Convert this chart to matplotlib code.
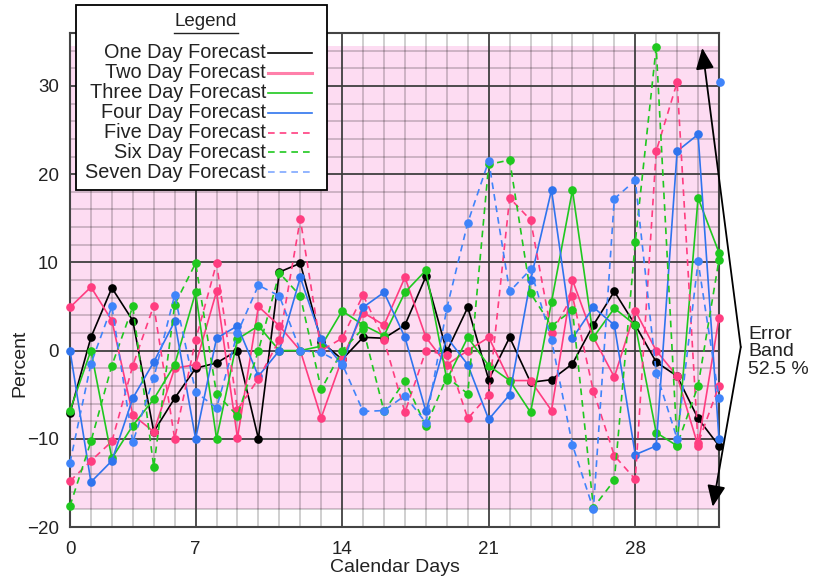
import numpy as np
import matplotlib
matplotlib.use("Agg")
import matplotlib.pyplot as plt
from matplotlib.patches import Rectangle
from matplotlib.lines import Line2D

plt.rcParams['font.family'] = ['Liberation Sans', 'DejaVu Sans']

# ---------------- data ----------------
days = list(range(1, 33))
xtick_pos = [1, 7, 14, 21, 28]
xtick_labels = ["0", "7", "14", "21", "28"]
ytick_vals = [-20, -10, 0, 10, 20, 30]

one_day = [-7.1, 1.5, 7.1, 3.4, -9.2, -5.4, -2.0, -1.4, 0.0, -10.0, 8.9, 9.9, 1.0, -1.0, 1.5, 1.4,
           2.9, 8.4, -0.1, 4.9, -3.3, 1.5, -3.6, -3.3, -1.5, 2.9, 6.7, 2.9, -1.3, -2.9, -7.7, -10.8]
two_day = [4.9, 7.2, 3.4, -7.3, -9.2, -2.0, -1.6, 6.7, -9.9, 5.0, 2.8, 0.0, -7.6, -0.9, 4.3, 2.9,
           8.3, 1.5, -1.6, 0.0, 1.5, -3.4, -3.4, -6.8, 8.0, 1.5, -3.0, 4.5, 0.0, -2.9, -10.8, 3.7]
three_day = [-6.8, 0.0, -12.2, -8.5, -5.5, -1.6, 6.6, -10.0, 1.3, 2.8, 0.0, 0.0, 0.5, 4.5, 2.9, 1.7,
             6.6, 9.1, -3.3, 1.5, -1.7, -3.4, -7.0, 5.5, 18.2, 1.5, 4.8, 2.9, -9.3, -10.8, 17.3, 11.1]
four_day = [0.0, -14.9, -12.5, -5.4, -1.3, 3.3, -10.0, 1.4, 2.8, -2.9, 0.0, 8.3, 1.3, -1.6, 4.9, 6.6,
            1.5, -6.9, 1.5, -1.6, -7.8, -5.0, 8.0, 18.2, 1.4, 4.9, 2.9, -11.8, -10.8, 22.6, 24.5, -10.0]
five_day = [-14.8, -12.5, -10.3, -1.7, 5.1, -10.0, 1.2, 9.9, -6.7, -3.2, 1.2, 14.9, 0.0, 1.4, 6.3, 1.2,
            -7.0, 0.0, -0.5, -7.7, -5.0, 17.3, 14.8, 2.0, 6.2, -4.6, -11.9, -14.6, 22.6, 30.4, -10.5, -4.0]
six_day = [-17.6, -10.3, -1.7, 5.0, -13.2, 5.2, 9.9, -4.9, -7.4, 0.0, 8.8, 6.2, -4.4, 0.0, 2.5, -6.9,
           -3.4, -8.6, -3.0, -4.9, 21.1, 21.6, 6.5, 2.8, 4.6, -17.8, -14.7, 12.3, 34.4, -10.7, -4.0, 10.3]
seven_day = [-12.7, -1.5, 5.0, -10.4, -3.1, 6.3, -4.7, -6.5, 2.0, 7.4, 6.2, 0.0, -0.2, -1.5, -6.9, -6.8,
             -5.1, -8.2, 4.8, 14.5, 21.5, 6.7, 9.2, 1.2, -10.7, -18.0, 17.2, 19.3, -2.5, -10.0, 10.1, -5.4]
seven_extra_day = [32.05]
seven_extra_value = [30.4]

band_low = -18.0
band_high = 34.5
band_label = "Error\nBand\n52.5 %"

series_names = ["One Day Forecast", "Two Day Forecast", "Three Day Forecast", "Four Day Forecast",
                "Five Day Forecast", "Six Day Forecast", "Seven Day Forecast"]
series_values = [one_day, two_day, three_day, four_day, five_day, six_day, seven_day]

# ---------------- styles ----------------
PINK = '#ff3d80'
GREEN = '#1fc81f'
BLUE = '#2f74ee'
LBLUE = '#3f84fa'
colors = ['#000000', PINK, GREEN, BLUE, PINK, GREEN, LBLUE]
legend_colors = ['#000000', '#ff80aa', GREEN, BLUE, PINK, GREEN, '#7fa8ff']
dashed = [False, False, False, False, True, True, True]
DASH = (0, (4, 3))
TXT = '#222222'

W, H = 817, 578
fig = plt.figure(figsize=(W / 100, H / 100), dpi=100)
ax = fig.add_axes([70 / W, 1 - 527 / H, (719 - 70) / W, (527 - 33) / H])

ax.set_xlim(1, 32)
ax.set_ylim(-20, 36)

# band
ax.axhspan(band_low, band_high, color='#fddcf2', zorder=0, lw=0)

# minor grid
for d in days:
    ax.axvline(d, color='black', alpha=0.22, lw=1.2, zorder=0.5)
for v in np.arange(-20, 37, 2):
    ax.axhline(v, color='black', alpha=0.22, lw=1.2, zorder=0.5)
# major grid
for d in xtick_pos[1:]:
    ax.axvline(d, color='#3a3a3a', lw=1.2, zorder=0.6)
for v in ytick_vals:
    ax.axhline(v, color='#3a3a3a', lw=1.2, zorder=0.6)

for name, vals, c, dsh in zip(series_names, series_values, colors, dashed):
    ax.plot(days, vals, color=c, lw=1.2, ls=DASH if dsh else '-', marker='o', ms=5.2,
            mec=c, mfc=c, clip_on=False, zorder=3)
ax.plot(seven_extra_day, seven_extra_value, 'o', color=LBLUE, ms=5.2, clip_on=False, zorder=3)

ax.set_xticks(xtick_pos)
ax.set_xticklabels(xtick_labels)
ax.set_yticks(ytick_vals)
ax.tick_params(length=0, labelsize=13.5, colors=TXT)
ax.tick_params(axis='x', pad=10)
ax.tick_params(axis='y', pad=8)
for s in ax.spines.values():
    s.set_color('#444444')
    s.set_linewidth(1.5)
ax.set_xlabel("Calendar Days", fontsize=14, labelpad=1, color=TXT)

fig.text(20 / W, 1 - 363 / H, "Percent", rotation=90, ha='center', va='center',
         fontsize=14, color=TXT)

# error band arrows
vx, vy = 33.04, 0.4
arrow_kw = dict(arrowstyle='-|>,head_length=0.65,head_width=0.28', color='black', lw=1.3,
                mutation_scale=20, shrinkA=0, shrinkB=0)
ax.annotate('', xy=(31.2, band_high - 0.2), xytext=(vx, vy), arrowprops=arrow_kw,
            annotation_clip=False, zorder=5)
ax.annotate('', xy=(31.7, band_low + 0.3), xytext=(vx, vy), arrowprops=arrow_kw,
            annotation_clip=False, zorder=5)
fig.text(748 / W, 1 - 352 / H, band_label, ha='left', va='center', fontsize=14,
         linespacing=1.05, color=TXT)

# legend (custom, drawn in figure pixel coordinates)
def fx(px):
    return px / W

def fy(py):
    return 1 - py / H

fig.add_artist(Rectangle((fx(76), fy(190)), fx(327) - fx(76), fy(5) - fy(190),
                         transform=fig.transFigure, facecolor='white', edgecolor='black',
                         lw=1.3, zorder=10))
fig.text(fx(206), fy(22), "Legend", ha='center', va='center', fontsize=13.5, color=TXT, zorder=11)
fig.add_artist(Line2D([fx(174), fx(238)], [fy(33), fy(33)], transform=fig.transFigure,
                      color=TXT, lw=1.0, zorder=11))
rows = [53, 73, 93, 113, 133, 152, 172]
for name, c, dsh, ry in zip(series_names, legend_colors, dashed, rows):
    fig.text(fx(266), fy(ry), name, ha='right', va='center', fontsize=14.3, color=TXT, zorder=11)
    lw = 2.2 if name == "Two Day Forecast" else 1.2
    fig.add_artist(Line2D([fx(268), fx(312)], [fy(ry), fy(ry)], transform=fig.transFigure,
                          color=c, lw=lw, ls=DASH if dsh else '-', zorder=11))

fig.savefig("out.png", dpi=100)
